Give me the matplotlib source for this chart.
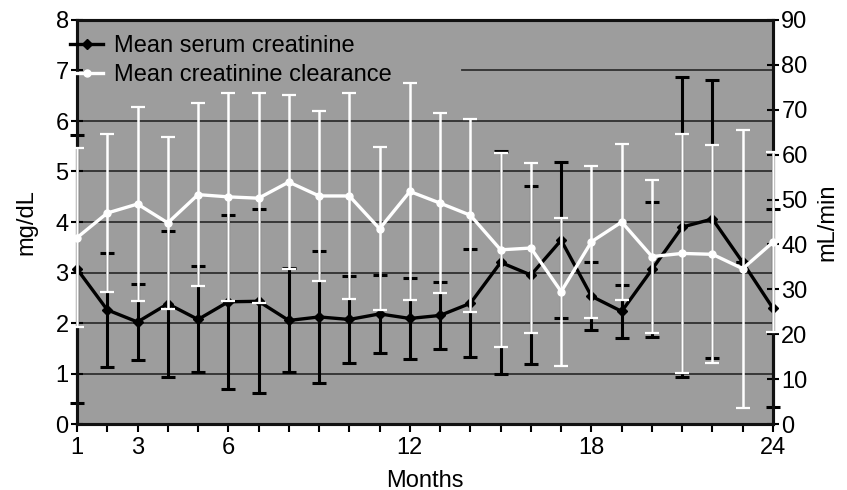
import numpy as np
import matplotlib
matplotlib.use('Agg')
import matplotlib.pyplot as plt
from matplotlib.lines import Line2D

plt.rcParams['font.family'] = ['Liberation Sans', 'DejaVu Sans']

months = np.arange(1, 25)

# mean serum creatinine (mg/dL) and its error
creat = [3.07, 2.26, 2.02, 2.38, 2.07, 2.42, 2.43, 2.05, 2.12, 2.07, 2.18, 2.09,
         2.15, 2.39, 3.20, 2.95, 3.64, 2.53, 2.23, 3.06, 3.90, 4.06, 3.20, 2.29]
creat_err = [2.65, 1.13, 0.76, 1.45, 1.05, 1.72, 1.82, 1.03, 1.31, 0.87, 0.77, 0.81,
             0.66, 1.07, 2.20, 1.77, 1.55, 0.67, 0.53, 1.34, 2.97, 2.75, 0.00, 1.96]

# mean creatinine clearance (mL/min) and its error
clear = [41.5, 47.0, 49.0, 44.8, 51.1, 50.6, 50.3, 53.9, 50.8, 50.8, 43.5, 51.8,
         49.2, 46.5, 38.8, 39.2, 29.5, 40.6, 45.0, 37.3, 38.0, 37.8, 34.6, 40.5]
clear_err = [19.9, 17.5, 21.7, 19.2, 20.4, 23.1, 23.4, 19.4, 19.0, 23.0, 18.1, 24.1,
             20.1, 21.5, 21.6, 18.9, 16.5, 16.9, 17.4, 17.0, 26.7, 24.3, 31.0, 20.0]

xlabels = {1: '1', 3: '3', 6: '6', 12: '12', 18: '18', 24: '24'}

bg = '#9d9d9d'
grid_c = '#303030'
fs = 17

fig = plt.figure(figsize=(8.47, 4.90), dpi=100)
ax = fig.add_axes([77/847, 1-424/490, 696/847, 404/490])
ax.set_facecolor(bg)

# gridlines (the top one is partly hidden behind the legend)
for v in range(1, 7):
    ax.axhline(v, color=grid_c, lw=1.3, zorder=1)
ax.axhline(7, xmin=(462-77)/696, color=grid_c, lw=1.3, zorder=1)

ax.errorbar(months, creat, yerr=creat_err, color='black', lw=2.4, marker='D', ms=5,
            elinewidth=2.2, capsize=5, capthick=2.2, zorder=3, clip_on=False)
ax.set_xlim(1, 24)
ax.set_ylim(0, 8)
ax.set_yticks(range(0, 9))
ax.set_xticks(months)
ax.set_xticklabels([xlabels.get(m, '') for m in months])
ax.tick_params(axis='y', direction='inout', length=8, width=1.5, labelsize=fs, pad=2)
ax.tick_params(axis='x', direction='out', length=6, width=1.5, labelsize=fs, pad=3)
ax.set_ylabel('mg/dL', fontsize=fs, labelpad=13)
ax.set_xlabel('Months', fontsize=fs, labelpad=8)

ax2 = ax.twinx()
ax2.errorbar(months, clear, yerr=clear_err, color='white', lw=2.4, marker='o', ms=5,
             elinewidth=1.8, capsize=5, capthick=1.6, zorder=4, clip_on=False)
ax2.set_ylim(0, 90)
ax2.set_yticks(range(0, 91, 10))
ax2.tick_params(axis='y', direction='inout', length=8, width=1.5, labelsize=fs, pad=2)
ax2.set_ylabel('mL/min', fontsize=fs, labelpad=6)

for a in (ax, ax2):
    for s in a.spines.values():
        s.set_color('#111111')
        s.set_linewidth(2.2)

handles = [Line2D([], [], color='black', lw=2.4, marker='D', ms=5),
           Line2D([], [], color='white', lw=2.4, marker='o', ms=5)]
leg = ax2.legend(handles, ['Mean serum creatinine', 'Mean creatinine clearance'],
                 loc='upper left', bbox_to_anchor=(-7/696, 0.962), frameon=False,
                 fontsize=fs, handlelength=1.4, handletextpad=0.45,
                 labelspacing=0.3, borderpad=0, borderaxespad=0)

fig.savefig('out.png', dpi=100)
plt.close(fig)
